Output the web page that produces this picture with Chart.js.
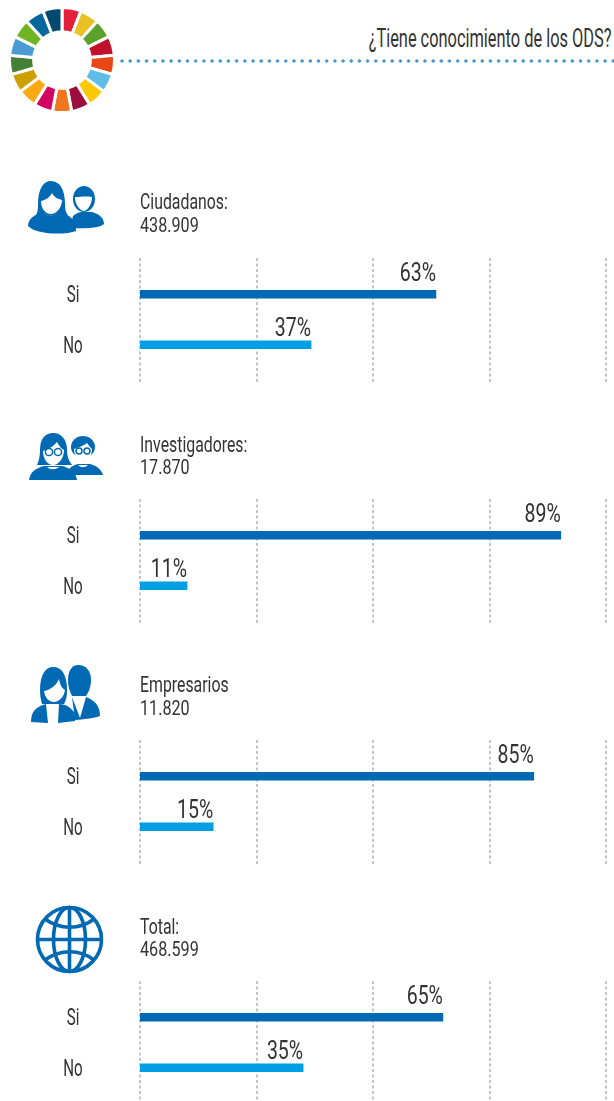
<!DOCTYPE html>
<html>
<head>
<meta charset="utf-8">
<title>ODS</title>
<script src="https://cdn.jsdelivr.net/npm/chart.js@4"></script>
<style>
html, body { margin: 0; padding: 0; background: #fff; }
body { position: relative; width: 614px; height: 1101px; overflow: hidden; font-family: Roboto, sans-serif; font-weight: 400; color: #333; }
canvas { position: absolute; left: 0; }
#wheel { left: 7px; top: 5px; }
#title { position: absolute; right: 3px; top: 23px; font-size: 26px; line-height: 30px; white-space: nowrap; transform: scaleX(.63); transform-origin: right center; }
#dots { position: absolute; left: 120px; top: 59px; width: 494px; height: 4px; background: radial-gradient(circle at 2px 2px, #3f96d2 1.4px, transparent 1.9px) 0 0 / 8.2px 4px repeat-x; }
.name, .count { position: absolute; left: 140px; white-space: nowrap; transform-origin: left center; }
.name { font-size: 22px; line-height: 24px; transform: scaleX(.72); }
.count { font-size: 21px; line-height: 24px; transform: scaleX(.77); }
#icons { position: absolute; left: 0; top: 0; }
</style>
</head>
<body>
<canvas id="wheel" width="110" height="110"></canvas>
<div id="title">¿Tiene conocimiento de los ODS?</div>
<div id="dots"></div>

<svg id="icons" width="614" height="1101" viewBox="0 0 614 1101">
  <!-- ciudadanos -->
  <g fill="#0069b4">
    <path d="M73 216 C78 212 80 212 84 212 L92 212 C100 214 104 219 104 224 C100 228 86 229 70 228Z"/>
    <ellipse cx="84" cy="199" rx="11" ry="13"/>
    <path d="M38 204 C38 188 44 181 51 181 C60 181 65 190 65 204 C65 210 66 213 68 215 L36 215 C38 212 38 208 38 204Z"/>
    <path d="M28 226 C28 218 36 214 44 212 L58 212 C70 214 76 220 76 231 C66 235 36 235 28 226Z"/>
  </g>
  <g fill="#fff">
    <path d="M41 201 C46 200 50 197 52 193 C54 197 58 199 62 200 C62 208 56 214 51 214 C45 214 41 208 41 201Z"/>
    <path d="M43 212 C47 217 55 217 59 212 L57 214 C54 216 48 216 45 214Z"/>
    <path d="M75 197 C80 197 86 196 92 197 C92 204 88 210 84 211 C79 210 75 204 75 197Z"/>
  </g>

  <!-- investigadores -->
  <g fill="#0069b4">
    <path d="M68 470 C72 466 74 465 78 464 L90 464 C98 466 102 471 103 475 L72 475Z"/>
    <ellipse cx="83" cy="447" rx="12" ry="11"/>
    <path d="M40 450 C40 438 46 433 53 433 C61 433 67 439 67 450 C67 458 70 462 72 465 L37 465 C39 460 40 456 40 450Z"/>
    <path d="M29 480 C30 472 36 468 44 466 L62 466 C70 468 76 472 77 480Z"/>
  </g>
  <g fill="#fff">
    <path d="M43 451 C49 449 54 446 57 442 C59 446 62 449 64 450 C64 458 59 465 53 465 C47 465 43 458 43 451Z"/>
    <path d="M74 449 C79 447 83 446 87 443 C89 446 91 448 92 449 C92 456 88 462 83 462 C78 462 74 456 74 449Z"/>
    <path d="M47 467 C50 470 56 470 59 467Z"/>
    <path d="M78 465 C81 468 85 468 88 465Z"/>
  </g>
  <g fill="none" stroke="#0069b4" stroke-width="1.5">
    <circle cx="49" cy="452" r="3.6"/>
    <circle cx="58" cy="452" r="3.6"/>
    <circle cx="79" cy="451" r="3"/>
    <circle cx="87" cy="451" r="3"/>
  </g>

  <!-- empresarios -->
  <g fill="#0069b4">
    <path d="M68 680 C68 669 73 665 78 665 C86 665 91 671 91 680 C91 688 88 693 86 696 L72 696 C70 692 68 687 68 680Z"/>
    <path d="M72 697 L80 718 L86 697 C94 700 100 705 100 716 C92 719 84 719 75 720Z"/>
    <path d="M40 690 C40 674 46 667 53 667 C62 667 67 675 67 690 C67 697 66 700 64 704 L42 704 C41 700 40 696 40 690Z"/>
    <path d="M31 722 C31 712 35 707 46 704 L48 723Z"/>
    <path d="M58 723 L59 704 C66 704 72 708 75 714 L75 721Z"/>
  </g>
  <path fill="#fff" d="M44 691 C50 690 56 686 59 679 C60 686 63 689 65 690 C64 698 58 702 54 702 C49 702 45 698 44 691Z"/>

  <!-- total -->
  <g fill="none" stroke="#0069b4" stroke-width="3.6">
    <circle cx="69.5" cy="939.5" r="32"/>
    <ellipse cx="69.5" cy="939.5" rx="16" ry="32"/>
    <path d="M69.5 907.5 V971.5 M37.5 939.5 H101.5"/>
    <path d="M45 919 C60 930 80 930 94 919"/>
    <path d="M45 960 C60 949 80 949 94 960"/>
  </g>
</svg>

<script>
// Datos
const categories = ['Si', 'No'];
// porcentajes impresos
const ciudadanosPct = [63, 37];
const investigadoresPct = [89, 11];
const empresariosPct = [85, 15];
const totalPct = [65, 35];
// largo de cada barra, medido sobre la grilla (no siempre coincide con el impreso)
const ciudadanosBars = [63.5, 36.7];
const investigadoresBars = [90.3, 10.1];
const empresariosBars = [84.5, 15.7];
const totalBars = [65, 35];
const axisTicks = [0, 25, 50, 75, 100];
const barColors = ['#0069b4', '#009fe3'];

const groupNames = ['Ciudadanos:', 'Investigadores:', 'Empresarios', 'Total:'];
const groupCounts = ['438.909', '17.870', '11.820', '468.599'];
const wheelColors = ['#e2203a', '#ebc024', '#5ca12c', '#c2102c', '#e94617', '#5dbde6', '#fbc800', '#9c0d3e', '#f0751e',
    '#d30061', '#fbaa13', '#cda000', '#458037', '#4a9bd4', '#6fb423', '#00689d', '#03486f'];

// Posicion vertical de cada panel
const panelTops = [258, 499, 740, 981];
const nameTops = [190, 433, 673, 915];
const countTops = [213, 455, 696, 937];
const labelLift = [13, 9]; // el porcentaje de "Si" va algo mas arriba que el de "No"

// Texto angosto: no hay fuente condensada instalada, se comprime en x
function narrowText(ctx, text, x, y, squeeze) {
    ctx.save();
    ctx.translate(x, y);
    ctx.scale(squeeze, 1);
    ctx.fillText(text, 0, 0);
    ctx.restore();
}

// Lineas punteadas de la grilla, sobresalen del area del grafico
const dashedGrid = {
    id: 'dashedGrid',
    beforeDatasetsDraw(chart) {
        const ctx = chart.ctx;
        const x = chart.scales.x;
        ctx.save();
        ctx.strokeStyle = '#8a8a8a';
        ctx.lineWidth = 1;
        ctx.setLineDash([3, 2.5]);
        x.ticks.forEach(t => {
            const px = Math.round(x.getPixelForValue(t.value));
            ctx.beginPath();
            ctx.moveTo(px, 0);
            ctx.lineTo(px, chart.height);
            ctx.stroke();
        });
        ctx.restore();
    }
};

// Categorias a la izquierda y porcentaje encima del final de cada barra
const textLabels = {
    id: 'textLabels',
    afterDatasetsDraw(chart, args, opts) {
        const ctx = chart.ctx;
        const y = chart.scales.y;
        ctx.save();
        ctx.fillStyle = '#333';
        ctx.textBaseline = 'alphabetic';
        ctx.font = '400 24px Roboto';
        ctx.textAlign = 'center';
        categories.forEach((c, i) => {
            narrowText(ctx, c, 73, y.getPixelForValue(i) + 8, 0.63);
        });
        ctx.font = '400 25px Roboto';
        ctx.textAlign = 'right';
        chart.getDatasetMeta(0).data.forEach((bar, i) => {
            narrowText(ctx, opts.printed[i] + '%', bar.x, bar.y - labelLift[i], 0.78);
        });
        ctx.restore();
    }
};

function makePanel(values, printed, index) {
    [['name', groupNames[index], nameTops[index]], ['count', groupCounts[index], countTops[index]]].forEach(([cls, text, top]) => {
        const line = document.createElement('div');
        line.className = cls;
        line.style.top = top + 'px';
        line.textContent = text;
        document.body.appendChild(line);
    });

    const canvas = document.createElement('canvas');
    canvas.width = 614;
    canvas.height = 125;
    canvas.style.top = panelTops[index] + 'px';
    document.body.appendChild(canvas);

    new Chart(canvas, {
        type: 'bar',
        data: {
            labels: categories,
            datasets: [{
                data: values,
                backgroundColor: barColors,
                barThickness: 8
            }]
        },
        options: {
            indexAxis: 'y',
            responsive: false,
            animation: false,
            layout: { padding: { top: 11, bottom: 13, right: 8, left: 140 } },
            plugins: {
                legend: { display: false },
                tooltip: { enabled: false },
                textLabels: { printed: printed }
            },
            scales: {
                x: {
                    display: false,
                    min: 0,
                    max: 100,
                    afterBuildTicks(axis) { axis.ticks = axisTicks.map(v => ({ value: v })); }
                },
                y: { display: false }
            }
        },
        plugins: [dashedGrid, textLabels]
    });
}

document.addEventListener('DOMContentLoaded', function() {
    new Chart(document.getElementById('wheel'), {
        type: 'doughnut',
        data: {
            labels: wheelColors.map((c, i) => 'ODS ' + (i + 1)),
            datasets: [{
                data: wheelColors.map(() => 1),
                backgroundColor: wheelColors,
                borderColor: '#fff',
                borderWidth: 3
            }]
        },
        options: {
            responsive: false,
            animation: false,
            cutout: '54%',
            layout: { padding: 1 },
            plugins: { legend: { display: false }, tooltip: { enabled: false } }
        }
    });

    makePanel(ciudadanosBars, ciudadanosPct, 0);
    makePanel(investigadoresBars, investigadoresPct, 1);
    makePanel(empresariosBars, empresariosPct, 2);
    makePanel(totalBars, totalPct, 3);
});
</script>
</body>
</html>
